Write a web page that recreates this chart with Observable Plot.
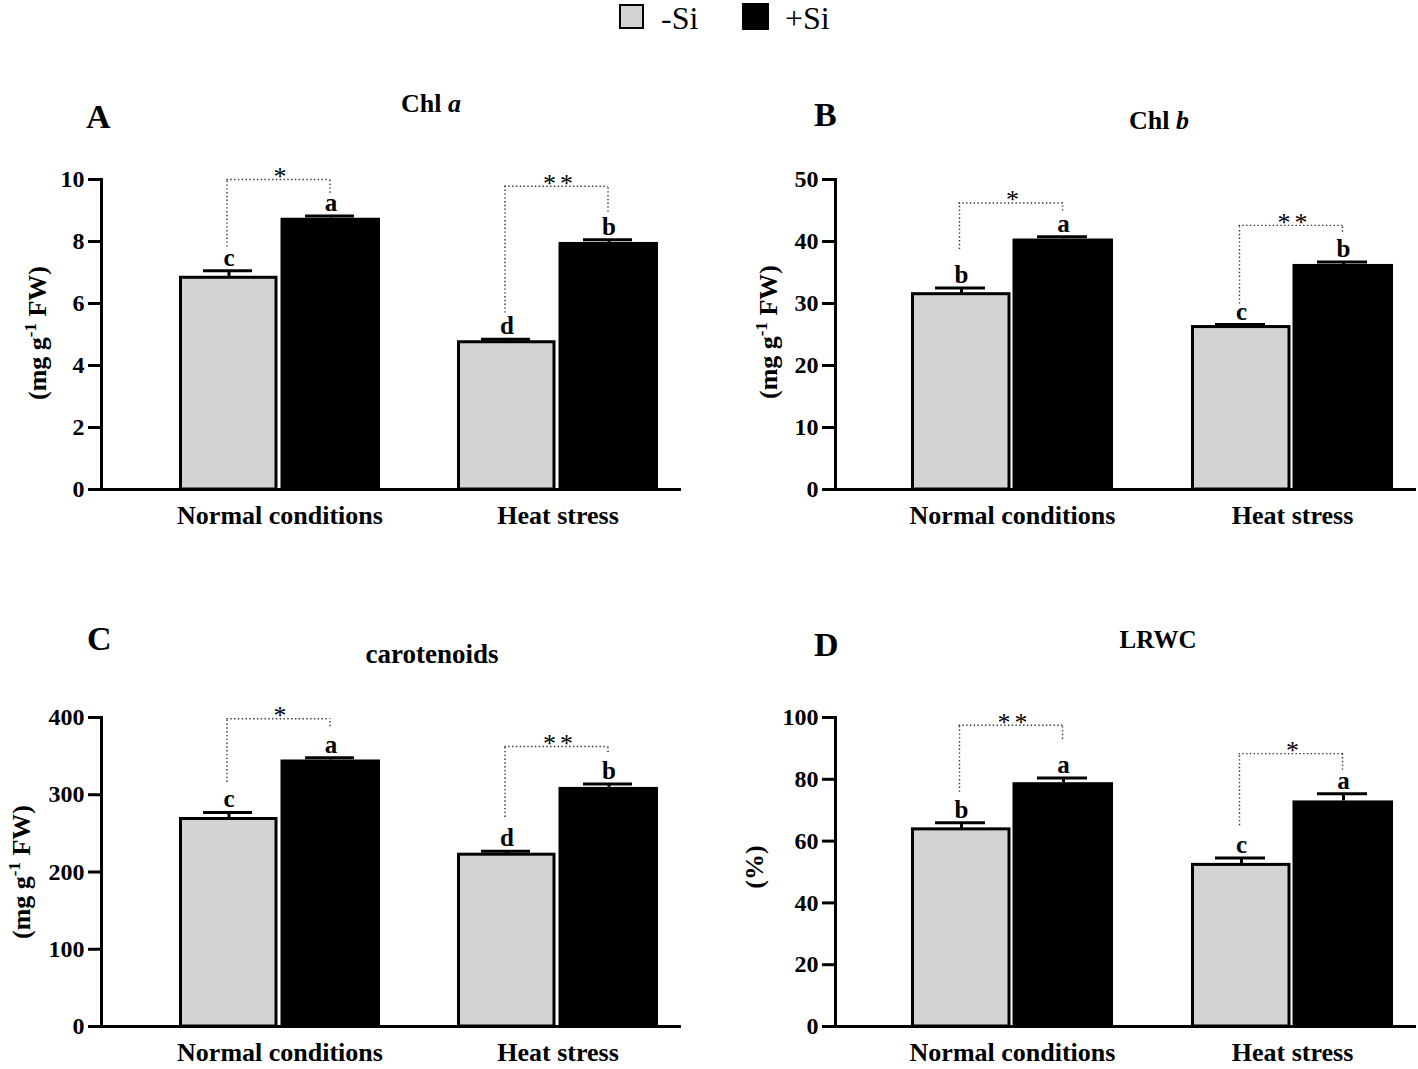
<!DOCTYPE html>
<html>
<head>
<meta charset="utf-8">
<script src="https://cdn.jsdelivr.net/npm/d3@7"></script>
<script src="https://cdn.jsdelivr.net/npm/@observablehq/plot@0.6"></script>
<style>
  body { margin: 0; background: #fff; }
  #fig { position: relative; width: 1418px; height: 1069px; background: #fff;
         font-family: "Liberation Serif", "Times New Roman", serif; color: #000; overflow: hidden; }
  .abs { position: absolute; line-height: 1; white-space: nowrap; }
  .plab { font-weight: bold; font-size: 34px; }
  .ttl { font-weight: bold; transform: translateX(-50%); }
  .leg { font-size: 32px; line-height: 0.9; }
  .sw { position: absolute; box-sizing: border-box; }
  .plot { position: absolute; }
</style>
</head>
<body>
<div id="fig">
  <div class="sw" style="left:619px;top:4px;width:25px;height:25px;background:#d3d3d3;border:2.5px solid #000;"></div>
  <div class="abs leg" style="left:661px;top:4px;">-Si</div>
  <div class="sw" style="left:742px;top:3px;width:27px;height:27px;background:#000;"></div>
  <div class="abs leg" style="left:785px;top:4px;">+Si</div>

  <div class="abs plab" style="left:86px;top:100px;">A</div>
  <div class="abs plab" style="left:814px;top:98px;">B</div>
  <div class="abs plab" style="left:87px;top:622px;">C</div>
  <div class="abs plab" style="left:814px;top:628px;">D</div>

  <div class="abs ttl" style="left:431px;top:91px;font-size:26px;">Chl <i>a</i></div>
  <div class="abs ttl" style="left:1159px;top:108px;font-size:26px;">Chl <i>b</i></div>
  <div class="abs ttl" style="left:432px;top:641px;font-size:27px;">carotenoids</div>
  <div class="abs ttl" style="left:1158px;top:627px;font-size:25px;">LRWC</div>
</div>
<script>
// ---------------- data ----------------
const groups = ["Normal conditions", "Heat stress"];
const treatments = ["-Si", "+Si"];

// order: Normal -Si, Normal +Si, Heat -Si, Heat +Si
const chlAMean = [6.83, 8.75, 4.75, 7.97];
const chlAErr = [0.23, 0.07, 0.10, 0.09];
const chlALetters = ["c", "a", "d", "b"];

const chlBMean = [31.5, 40.4, 26.2, 36.3];
const chlBErr = [1.0, 0.35, 0.4, 0.4];
const chlBLetters = ["b", "a", "c", "b"];

const carMean = [268.6, 345, 222.4, 309.5];
const carErr = [8.5, 3, 4.3, 4.3];
const carLetters = ["c", "a", "d", "b"];

const lrwcMean = [63.8, 78.9, 52.3, 73.0];
const lrwcErr = [2.15, 1.5, 2.2, 2.3];
const lrwcLetters = ["b", "a", "c", "a"];

// significance brackets per group (data units): stars, top, left-leg end, right-leg end
const chlAStars = ["*", "**"];
const chlATop = [10.0, 9.78];
const chlALeft = [7.82, 5.69];
const chlARight = [9.56, 8.95];

const chlBStars = ["*", "**"];
const chlBTop = [46.2, 42.6];
const chlBLeft = [38.7, 29.9];
const chlBRight = [44.9, 41.5];

const carStars = ["*", "**"];
const carTop = [398.3, 362.5];
const carLeft = [316, 270.7];
const carRight = [388, 354.7];

const lrwcStars = ["**", "*"];
const lrwcTop = [97.5, 88.3];
const lrwcLeft = [75.8, 65];
const lrwcRight = [92.9, 82.9];

const chlATicks = [0, 2, 4, 6, 8, 10];
const chlBTicks = [0, 10, 20, 30, 40, 50];
const carTicks = [0, 100, 200, 300, 400];
const lrwcTicks = [0, 20, 40, 60, 80, 100];

// ---------------- drawing ----------------
function panel(cfg) {
  const rows = [];
  groups.forEach((g, gi) => treatments.forEach((t, ti) => {
    const i = gi * 2 + ti;
    rows.push({group: g, treatment: t, mean: cfg.mean[i], hi: cfg.mean[i] + cfg.err[i], letter: cfg.letters[i]});
  }));
  const br = groups.map((g, gi) => ({group: g, star: cfg.stars[gi], top: cfg.top[gi], left: cfg.left[gi], right: cfg.right[gi]}));
  const minus = rows.filter(d => d.treatment === "-Si");
  const plus = rows.filter(d => d.treatment === "+Si");
  const OFF = 51;
  const dotted = {stroke: "#333", strokeWidth: 1.4, strokeDasharray: "1.4,2.4"};
  const svg = Plot.plot({
    width: cfg.width, height: cfg.height,
    marginLeft: cfg.ml, marginRight: cfg.mr, marginTop: cfg.mt, marginBottom: cfg.mb,
    style: {fontFamily: '"Liberation Serif","Times New Roman",serif', fontSize: "26px", fontWeight: "bold",
            background: "transparent", color: "black", overflow: "visible"},
    x: {domain: groups, paddingInner: cfg.pi, paddingOuter: cfg.po, align: cfg.align},
    y: {domain: [0, cfg.ticks[cfg.ticks.length - 1]]},
    marks: [
      Plot.barY(minus, {x: "group", y: "mean", fill: "#d3d3d3", stroke: "black", strokeWidth: 3, insetLeft: 1.5, insetRight: 104}),
      Plot.barY(plus, {x: "group", y: "mean", fill: "black", insetLeft: 101.5}),
      Plot.ruleX(minus, {x: "group", y1: "mean", y2: "hi", dx: -OFF, strokeWidth: 3}),
      Plot.ruleX(plus, {x: "group", y1: "mean", y2: "hi", dx: OFF, strokeWidth: 3}),
      Plot.tickY(minus, {x: "group", y: "hi", insetLeft: 24, insetRight: 128, strokeWidth: 3}),
      Plot.tickY(plus, {x: "group", y: "hi", insetLeft: 126, insetRight: 26, strokeWidth: 3}),
      Plot.text(minus, {x: "group", y: "hi", text: "letter", dx: -OFF, lineAnchor: "bottom", dy: -5, fontSize: 25, fontWeight: "bold"}),
      Plot.text(plus, {x: "group", y: "hi", text: "letter", dx: OFF, lineAnchor: "bottom", dy: -5, fontSize: 25, fontWeight: "bold"}),
      Plot.ruleX(br, {x: "group", y1: "left", y2: "top", dx: -53, ...dotted}),
      Plot.ruleX(br, {x: "group", y1: "right", y2: "top", dx: 50, ...dotted}),
      Plot.tickY(br, {x: "group", y: "top", insetLeft: 47.5, insetRight: 50.5, ...dotted}),
      Plot.text(br, {x: "group", y: "top", text: "star", lineAnchor: "middle", dx: 2, dy: -3, fontSize: 26, fontWeight: "normal"}),
      Plot.ruleY([0], {strokeWidth: 3}),
      Plot.frame({anchor: "left", strokeWidth: 3}),
      Plot.axisY({ticks: cfg.ticks, tickSize: 13, tickPadding: 4, strokeWidth: 3, fontSize: 24, label: null}),
      Plot.axisX({tickSize: 0, tickPadding: 16, label: null})
    ]
  });
  // widen the spacing of the significance stars
  d3.select(svg).selectAll("text")
    .filter(function () { return /^\*+$/.test(this.textContent); })
    .attr("letter-spacing", 4);
  // rotated y-axis label with superscript
  const lab = d3.select(svg).append("text")
    .attr("transform", `translate(${cfg.lx},${cfg.ly}) rotate(-90)`)
    .attr("text-anchor", "middle")
    .attr("font-size", 26).attr("font-weight", "bold").attr("fill", "black");
  if (cfg.unit === "mg") {
    lab.append("tspan").text("(mg g");
    lab.append("tspan").attr("dy", -10).attr("font-size", 17).text("-1");
    lab.append("tspan").attr("dy", 10).text(" FW)");
  } else {
    lab.text("(%)");
  }
  svg.classList.add("plot");
  svg.style.left = cfg.left0 + "px";
  svg.style.top = cfg.top0 + "px";
  document.getElementById("fig").appendChild(svg);
}

const leftCol = {width: 700, ml: 101, mr: 19, pi: 0.2785, po: 0.1787, align: 0.772, left0: 0};
const rightCol = {width: 718, ml: 135, mr: 2, pi: 0.2786, po: 0.1768, align: 0.768, left0: 700};
const topRow = {height: 400, mt: 39, mb: 51, top0: 140};
const botRow = {height: 389, mt: 37, mb: 43, top0: 680};

panel({...leftCol, ...topRow, mean: chlAMean, err: chlAErr, letters: chlALetters,
  stars: chlAStars, top: chlATop, left: chlALeft, right: chlARight, ticks: chlATicks,
  unit: "mg", lx: 46, ly: 193});
panel({...rightCol, ...topRow, mean: chlBMean, err: chlBErr, letters: chlBLetters,
  stars: chlBStars, top: chlBTop, left: chlBLeft, right: chlBRight, ticks: chlBTicks,
  unit: "mg", lx: 77, ly: 192});
panel({...leftCol, ...botRow, mean: carMean, err: carErr, letters: carLetters,
  stars: carStars, top: carTop, left: carLeft, right: carRight, ticks: carTicks,
  unit: "mg", lx: 30, ly: 192});
panel({...rightCol, ...botRow, mean: lrwcMean, err: lrwcErr, letters: lrwcLetters,
  stars: lrwcStars, top: lrwcTop, left: lrwcLeft, right: lrwcRight, ticks: lrwcTicks,
  unit: "pct", lx: 63, ly: 187});
</script>
</body>
</html>
